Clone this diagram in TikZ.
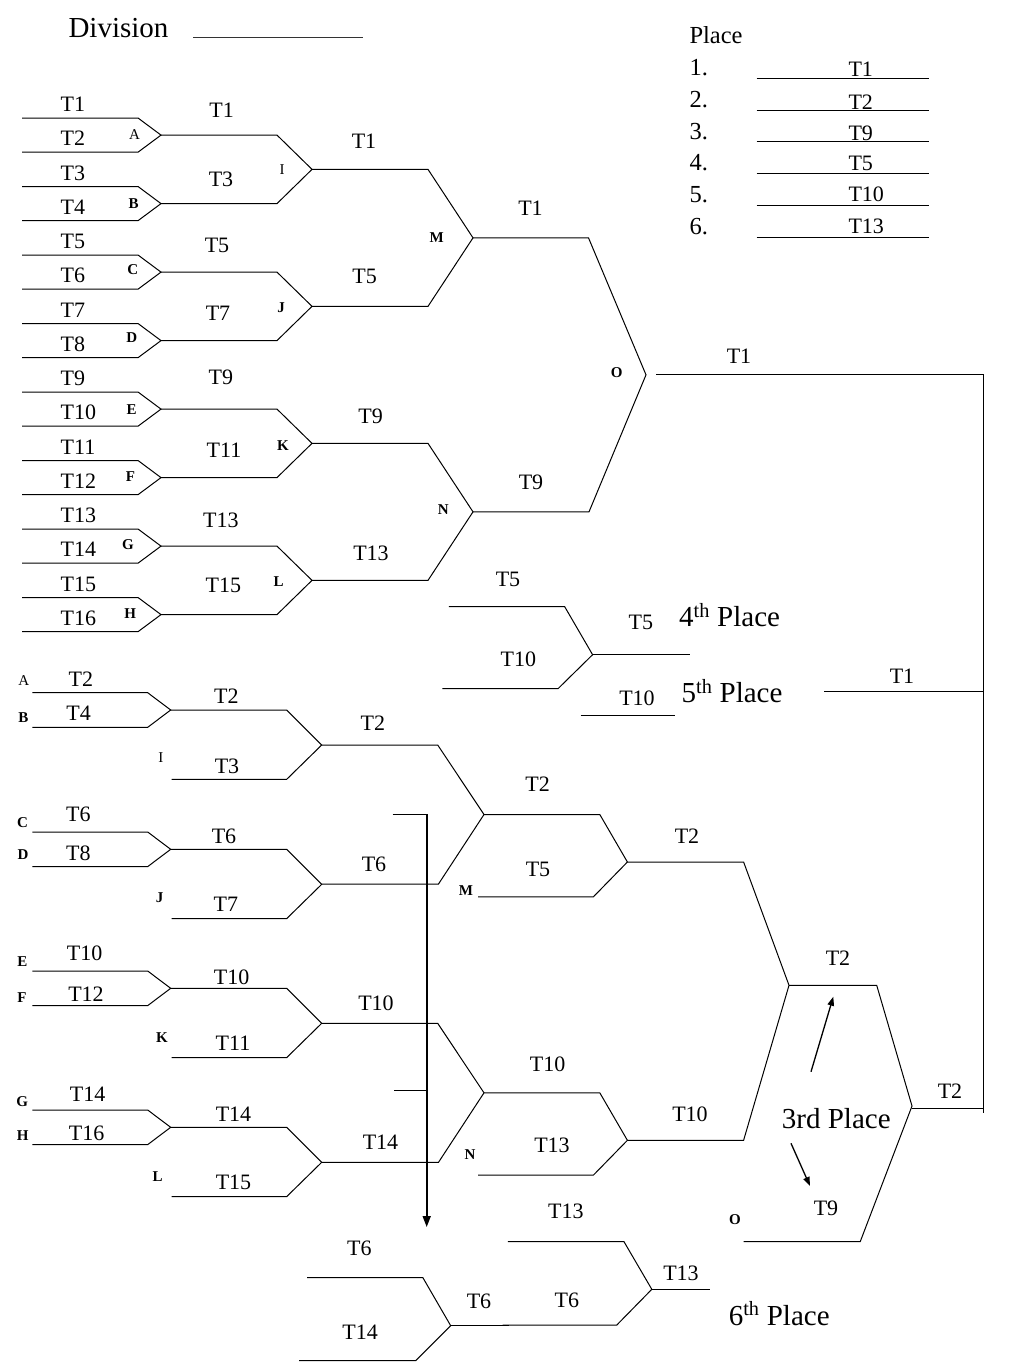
\documentclass[tikz,border=0pt]{standalone}
\usepackage{fontspec}
\setmainfont{Liberation Serif}
\usetikzlibrary{arrows.meta}
\begin{document}
\begin{tikzpicture}[x=1pt,y=-1pt,
  ln/.style={line width=1pt,line join=miter},
  lbl/.style={inner sep=0pt,anchor=base,font=\fontsize{22}{24}\selectfont},
  lblw/.style={inner sep=0pt,anchor=base west,font=\fontsize{22}{24}\selectfont},
  letb/.style={inner sep=0pt,font=\fontsize{15}{16}\selectfont\bfseries},
  letr/.style={inner sep=0pt,font=\fontsize{15}{16}\selectfont},
  bigw/.style={inner sep=0pt,anchor=base west,font=\fontsize{29}{32}\selectfont},
  plc/.style={inner sep=0pt,anchor=base west,font=\fontsize{24.5}{27}\selectfont},
  arr/.style={line width=1.3pt,-{Triangle[length=9pt,width=6.5pt]}}]
\fill[white] (0,0) rectangle (1024,1365);
\useasboundingbox (0,0) rectangle (1024,1365);

% ---------- header ----------
\node[bigw] (div) at (68.3,37.3) {Division};
\draw[line width=1.6pt,black!80] (193.3,37.3) -- (363.3,37.3);
\node[plc] (place) at (689.3,43.3) {Place};
\foreach \n/\yb/\t/\tb/\yl in {1/75/T1/76.7/78.3, 2/107.3/T2/109.3/110, 3/139/T9/140/141.7,
    4/170.7/T5/170.7/173.3, 5/202.3/T10/201.7/205, 6/234/T13/233.3/237.3} {
  \node[plc] (pn\n) at (689.3,\yb) {\n.};
  \draw[ln] (756.7,\yl) -- (929.3,\yl);
  \node[lblw] (pt\n) at (848.3,\tb) {\t};
}

% ---------- winners bracket ----------
\foreach \i in {0,...,7} {
  \pgfmathsetmacro\yt{118+68.5*\i}
  \draw[ln] (22,\yt) -- (138,\yt) -- (161,{\yt+17.1}) -- (138,{\yt+34.2}) -- (22,{\yt+34.2});
}
\foreach \i in {1,...,16} {
  \node[lblw] (u\i) at (60.5,{118+34.25*(\i-1)-6.5}) {T\i};
}
\foreach \j in {0,...,3} {
  \pgfmathsetmacro\ya{135.1+137*\j}
  \draw[ln] (161,\ya) -- (277,\ya) -- (312,{\ya+34.25}) -- (277,{\ya+68.5}) -- (161,{\ya+68.5});
}
\foreach \k in {0,1} {
  \pgfmathsetmacro\ya{169.35+274*\k}
  \draw[ln] (312,\ya) -- (428,\ya) -- (473,{\ya+68.5}) -- (428,{\ya+137}) -- (312,{\ya+137});
}
\draw[ln] (473,237.85) -- (588.5,237.85) -- (646,374.85) -- (589,511.85) -- (473,511.85);
\draw[ln] (656,374.85) -- (983.5,374.85) -- (983.5,1112.7);
\draw[ln] (911.7,1108.3) -- (983.5,1108.3);

% letters
\node[letr] (lA) at (134.5,134.7) {A};
\node[letb] (lB) at (133.7,204) {B};
\node[letb] (lC) at (132.7,270) {C};
\node[letb] (lD) at (131.7,337.7) {D};
\node[letb] (lE) at (131.7,409.3) {E};
\node[letb] (lF) at (130.5,476.7) {F};
\node[letb] (lG) at (128,545) {G};
\node[letb] (lH) at (130.3,614) {H};
\node[letr] (lI) at (282,169.3) {I};
\node[letb] (lJ) at (281,307.7) {J};
\node[letb] (lK) at (283,445.7) {K};
\node[letb] (lL) at (278.7,581.7) {L};
\node[letb] (lM) at (436.7,237.3) {M};
\node[letb] (lN) at (443.3,510) {N};
\node[letb] (lO) at (616.7,372.3) {O};

% round labels
\node[lbl] (r2a) at (221.7,117.7) {T1};
\node[lbl] (r2b) at (221,186.7) {T3};
\node[lbl] (r2c) at (217,252.7) {T5};
\node[lbl] (r2d) at (218,320.7) {T7};
\node[lbl] (r2e) at (220.8,384.3) {T9};
\node[lbl] (r2f) at (224,457.3) {T11};
\node[lbl] (r2g) at (220.8,527.3) {T13};
\node[lbl] (r2h) at (223.3,592.7) {T15};
\node[lbl] (r3a) at (364,148.3) {T1};
\node[lbl] (r3b) at (364.7,283.3) {T5};
\node[lbl] (r3c) at (370.7,423.3) {T9};
\node[lbl] (r3d) at (371,560.5) {T13};
\node[lbl] (r4a) at (530.5,215.7) {T1};
\node[lbl] (r4b) at (531,489) {T9};
\node[lbl] (r5a) at (739,363.5) {T1};

% ---------- 4th / 5th place ----------
\draw[ln] (448.8,606.7) -- (564.7,606.7) -- (592.6,654.7) -- (558,688.7) -- (442.4,688.7);
\draw[ln] (592.6,654.7) -- (690.4,654.7);
\draw[ln] (580.5,715) -- (674.6,715);
\draw[ln] (824.4,691.7) -- (983.5,691.7);
\node[lbl] (ld1) at (508,586) {T5};
\node[lbl] (ld2) at (518.4,666.7) {T10};
\node[lbl] (ld3) at (640.8,629.3) {T5};
\node[lbl] (ld4) at (637,705) {T10};
\node[lbl] (ld5) at (902,683.3) {T1};
\node[bigw] (p4) at (679,626.7) {4\textsuperscript{th} Place};
\node[bigw] (p5) at (681.4,702.7) {5\textsuperscript{th} Place};

% ---------- losers bracket ----------
\foreach \yt in {692.7,832,971,1110} {
  \draw[ln] (32.3,\yt) -- (147.7,\yt) -- (170.7,{\yt+17.3}) -- (147.7,{\yt+34.6}) -- (32.3,{\yt+34.6});
}
\foreach \ym in {710,849.3,988.3,1127.3} {
  \draw[ln] (170.7,\ym) -- (286.7,\ym) -- (321.7,{\ym+35}) -- (286.7,{\ym+69.3}) -- (171.7,{\ym+69.3});
}
\foreach \ya in {745,1023.3} {
  \draw[ln] (321.7,\ya) -- (437.7,\ya) -- (484,{\ya+69.5}) -- (438.5,{\ya+139}) -- (321.7,{\ya+139});
}
\foreach \ya in {814.5,1092.8} {
  \draw[ln] (484,\ya) -- (599.8,\ya) -- (627.4,{\ya+47.5}) -- (593.4,{\ya+82.3}) -- (478,{\ya+82.3});
}
\draw[ln] (627.4,862) -- (743.6,862) -- (789,985.3) -- (743.6,1140.3) -- (627.4,1140.3);
\draw[ln] (789,985.3) -- (876.7,985.3) -- (912,1106) -- (860.2,1241.7) -- (743.6,1241.7);

% letters
\node[letr] (mA) at (23.7,680.3) {A};
\node[letb] (mB) at (23.3,717.7) {B};
\node[letr] (mI) at (160.8,757.5) {I};
\node[letb] (mC) at (22.5,822.5) {C};
\node[letb] (mD) at (23,855) {D};
\node[letb] (mJ) at (159.7,897.5) {J};
\node[letb] (mM) at (466,890.8) {M};
\node[letb] (mE) at (22.5,961.3) {E};
\node[letb] (mF) at (22,997.2) {F};
\node[letb] (mK) at (162,1037.5) {K};
\node[letb] (mG) at (22.2,1101.3) {G};
\node[letb] (mH) at (22.7,1135.8) {H};
\node[letb] (mL) at (157.7,1176.7) {L};
\node[letb] (mN) at (470,1155) {N};
\node[letb] (mO) at (735,1220) {O};

% labels
\node[lbl] (la1) at (80.8,686) {T2};
\node[lbl] (la2) at (78.7,720.7) {T4};
\node[lbl] (la3) at (226.3,703.3) {T2};
\node[lbl] (la4) at (227,773.3) {T3};
\node[lbl] (la5) at (372.8,730) {T2};
\node[lbl] (la6) at (78.3,821.7) {T6};
\node[lbl] (la7) at (78.3,860) {T8};
\node[lbl] (la8) at (224,843.3) {T6};
\node[lbl] (la9) at (225.8,911.7) {T7};
\node[lbl] (la10) at (374,871.7) {T6};
\node[lbl] (la11) at (84.7,960) {T10};
\node[lbl] (la12) at (86,1001.7) {T12};
\node[lbl] (la13) at (231.7,984) {T10};
\node[lbl] (la14) at (233,1050.7) {T11};
\node[lbl] (la15) at (376,1010) {T10};
\node[lbl] (la16) at (87.7,1101.7) {T14};
\node[lbl] (la17) at (86.7,1140.7) {T16};
\node[lbl] (la18) at (233.5,1121.7) {T14};
\node[lbl] (la19) at (233.5,1189.3) {T15};
\node[lbl] (la20) at (380.5,1149.3) {T14};
\node[lbl] (lb1) at (537.7,791.7) {T2};
\node[lbl] (lb2) at (538,876) {T5};
\node[lbl] (lb3) at (687,843.3) {T2};
\node[lbl] (lb4) at (838,965) {T2};
\node[lbl] (lb5) at (950,1098.3) {T2};
\node[lbl] (lb6) at (547.6,1071.7) {T10};
\node[lbl] (lb7) at (552,1152.3) {T13};
\node[lbl] (lb8) at (690,1121.7) {T10};
\node[lbl] (lb9) at (565.8,1218.3) {T13};
\node[lbl] (lb10) at (826,1215) {T9};
\node[bigw] (p3) at (781.7,1128.3) {3rd Place};

% long arrow and ticks
\coordinate (va) at (426.7,814.3);
\coordinate (vb) at (426.7,1227);
\coordinate (ta) at (392.7,814.3);
\coordinate (tb) at (394,1090);
\coordinate (tc) at (426.7,1090);
\draw[ln] (ta) -- (va);
\draw[ln] (tb) -- (tc);
\draw[line width=1.6pt,-{Triangle[length=11pt,width=8pt]}] (va) -- (vb);

% 3rd place arrows
\coordinate (ua) at (811,1071.7);
\coordinate (ub) at (833.3,996.7);
\coordinate (da) at (791,1143.3);
\coordinate (db) at (810,1186);
\draw[arr] (ua) -- (ub);
\draw[arr] (da) -- (db);

% ---------- 6th place ----------
\draw[ln] (507.9,1241.7) -- (624,1241.7) -- (651.8,1289.3) -- (616.8,1325) -- (502.5,1325);
\draw[ln] (651.8,1289.3) -- (709.6,1289.3);
\draw[ln] (307,1277.7) -- (422.9,1277.7) -- (450.7,1325.7) -- (415.7,1360.7) -- (299,1360.7);
\draw[ln] (450.7,1325.7) -- (508.6,1325.7);
\node[lbl] (lc1) at (359.3,1255) {T6};
\node[lbl] (lc2) at (360.2,1339.3) {T14};
\node[lbl] (lc3) at (479,1308.3) {T6};
\node[lbl] (lc4) at (566.8,1307.3) {T6};
\node[lbl] (lc5) at (681,1280) {T13};
\node[bigw] (p6) at (728.6,1325) {6\textsuperscript{th} Place};
\end{tikzpicture}
\end{document}
